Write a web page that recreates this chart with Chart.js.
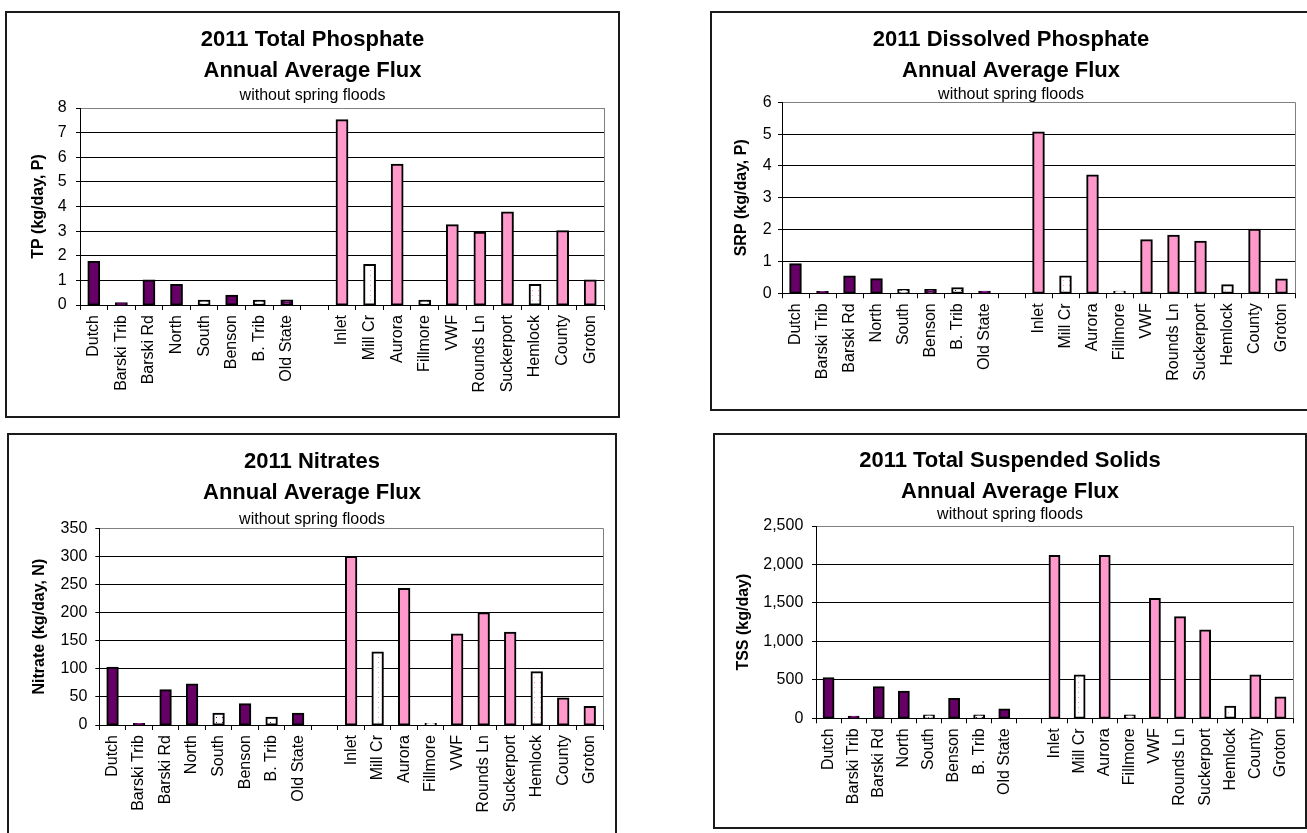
<!DOCTYPE html>
<html>
<head>
<meta charset="utf-8">
<title>2011 Annual Average Flux</title>
<script src="https://cdn.jsdelivr.net/npm/chart.js@4/dist/chart.umd.min.js"></script>
<style>
  html, body { margin: 0; padding: 0; background: #fff; overflow: hidden; }
  body { width: 1307px; height: 833px; position: relative; }
  .panel { position: absolute; box-sizing: border-box; border: 2px solid #1a1a1a; background: #fff; }
  .panel canvas { position: absolute; left: 0; top: 0; }
</style>
</head>
<body>
<div class="panel" id="p-tp"><canvas id="c-tp"></canvas></div>
<div class="panel" id="p-srp"><canvas id="c-srp"></canvas></div>
<div class="panel" id="p-no3"><canvas id="c-no3"></canvas></div>
<div class="panel" id="p-tss"><canvas id="c-tss"></canvas></div>
<script>
// Monitoring sites (west-shore tributaries, a blank spacer, then east-shore sites)
const categories = ['Dutch', 'Barski Trib', 'Barski Rd', 'North', 'South', 'Benson', 'B. Trib', 'Old State', '',
                    'Inlet', 'Mill Cr', 'Aurora', 'Fillmore', 'VWF', 'Rounds Ln', 'Suckerport', 'Hemlock', 'County', 'Groton'];
const westSites = ['Dutch', 'Barski Trib', 'Barski Rd', 'North', 'South', 'Benson', 'B. Trib', 'Old State'];
const hollowSites = ['South', 'B. Trib', 'Mill Cr', 'Fillmore', 'Hemlock'];

// Annual average flux, without spring floods
const tpValues      = [1.75, 0.07, 1.0, 0.81, 0.17, 0.38, 0.17, 0.18, null, 7.5, 1.62, 5.7, 0.17, 3.24, 2.93, 3.76, 0.81, 3.0, 1.0];
const srpValues     = [0.91, 0.04, 0.53, 0.44, 0.1, 0.1, 0.16, 0.05, null, 5.05, 0.53, 3.7, 0.05, 1.67, 1.81, 1.62, 0.25, 2.0, 0.43];
const nitrateValues = [102, 2, 62, 72, 20, 37, 13, 20, null, 299, 129, 242, 2, 161, 199, 164, 94, 47, 32];
const tssValues     = [520, 20, 405, 345, 35, 250, 35, 115, null, 2110, 555, 2110, 35, 1550, 1315, 1140, 150, 555, 270];

const tpTicks      = [0, 1, 2, 3, 4, 5, 6, 7, 8];
const srpTicks     = [0, 1, 2, 3, 4, 5, 6];
const nitrateTicks = [0, 50, 100, 150, 200, 250, 300, 350];
const tssTicks     = [0, 500, 1000, 1500, 2000, 2500];

const FONT = "'Liberation Sans', Arial, Helvetica, sans-serif";
const PURPLE = '#660066';
const PINK = '#FF99CC';
const BORDER_W = 2;

// Sparse dotted fill used for the hollow bars
function dotPattern(dotColor) {
  const c = document.createElement('canvas');
  c.width = 6; c.height = 5;
  const g = c.getContext('2d');
  g.fillStyle = '#ffffff';
  g.fillRect(0, 0, 6, 5);
  g.fillStyle = dotColor;
  g.fillRect(3, 2, 1, 1);
  return g.createPattern(c, 'repeat');
}

function barFills() {
  const westDots = dotPattern(PURPLE);
  const eastDots = dotPattern(PINK);
  return categories.map(name => {
    const west = westSites.includes(name);
    if (hollowSites.includes(name)) return west ? westDots : eastDots;
    return west ? PURPLE : PINK;
  });
}

// Frame of the plot area: grey right edge (top edge comes from the top grid line)
const plotFrame = {
  id: 'plotFrame',
  beforeDatasetsDraw(chart) {
    const { ctx, chartArea: a } = chart;
    ctx.save();
    ctx.strokeStyle = '#808080';
    ctx.lineWidth = 1;
    ctx.beginPath();
    ctx.moveTo(Math.round(a.right) + 0.5, a.top);
    ctx.lineTo(Math.round(a.right) + 0.5, a.bottom);
    ctx.stroke();
    ctx.restore();
  }
};

// Page layout of each panel: outer box, plot rectangle, text baselines
const panels = [
  { key: 'tp',  box: [5, 11, 620, 418],   plot: [80, 108, 604, 305],       titleBase: [47.3, 79],  subBase: 101.5, yTitleX: 39,    labelEnd: 66.7,
    title: ['2011 Total Phosphate', 'Annual Average Flux'], yTitle: 'TP (kg/day, P)', values: tpValues, ticks: tpTicks },
  { key: 'srp', box: [710, 11, 1312, 411], plot: [782, 102.3, 1295, 293.3], titleBase: [47.3, 79],  subBase: 100,   yTitleX: 741.5, labelEnd: 771.7,
    title: ['2011 Dissolved Phosphate', 'Annual Average Flux'], yTitle: 'SRP (kg/day, P)', values: srpValues, ticks: srpTicks },
  { key: 'no3', box: [7, 433, 617, 840],   plot: [99.3, 526.7, 603, 725],   titleBase: [470, 500.7], subBase: 525,  yTitleX: 40,    labelEnd: 87.3,
    title: ['2011 Nitrates', 'Annual Average Flux'], yTitle: 'Nitrate (kg/day, N)', values: nitrateValues, ticks: nitrateTicks },
  { key: 'tss', box: [713, 433, 1307, 829], plot: [816, 526, 1293, 718.3],  titleBase: [469, 500],  subBase: 520,   yTitleX: 744,   labelEnd: 803.3,
    title: ['2011 Total Suspended Solids', 'Annual Average Flux'], yTitle: 'TSS (kg/day)', values: tssValues, ticks: tssTicks }
];

const TITLE_SIZE = 22, SUB_SIZE = 16, AXIS_SIZE = 16;
const MID_TO_BASE = 0.3465; // alphabetic baseline below the em-box middle
const Y_TICK_LEN = 4, X_TICK_LEN = 5;

function buildPanel(p) {
  const [bl, bt, br, bb] = p.box;
  const div = document.getElementById('p-' + p.key);
  div.style.left = bl + 'px';
  div.style.top = bt + 'px';
  div.style.width = (br - bl) + 'px';
  div.style.height = (bb - bt) + 'px';

  const ox = bl + BORDER_W, oy = bt + BORDER_W;
  const W = br - bl - 2 * BORDER_W, H = bb - bt - 2 * BORDER_W;
  const canvas = document.getElementById('c-' + p.key);
  canvas.width = W; canvas.height = H;
  canvas.style.width = W + 'px'; canvas.style.height = H + 'px';

  const plotL = p.plot[0] - ox, plotT = p.plot[1] - oy, plotR = p.plot[2] - ox, plotB = p.plot[3] - oy;
  const side = W - plotR;

  // Title block
  const b1 = p.titleBase[0] - oy, b2 = p.titleBase[1] - oy;
  const lh = b2 - b1;
  const titleTop = b1 - MID_TO_BASE * TITLE_SIZE - lh / 2;
  const titleBottom = titleTop + 2 * lh;
  const subMid = p.subBase - oy - MID_TO_BASE * SUB_SIZE;
  let subLh = 17.6, subTop = subMid - subLh / 2 - titleBottom;
  if (subTop < 0) { subLh = 2 * (subMid - titleBottom); subTop = 0; }
  const subBottom = Math.max(0, plotT - titleBottom - subTop - subLh);

  const yWidth = plotL - side;
  const yTitlePad = Math.max(0, (p.yTitleX - ox) - side - AXIS_SIZE * 0.6);
  const yTickPad = Math.max(0, plotL - (p.labelEnd - ox) - Y_TICK_LEN);
  const xHeight = H - plotB;
  const yMax = p.ticks[p.ticks.length - 1];
  const yStep = p.ticks[1] - p.ticks[0];

  return new Chart(canvas, {
    type: 'bar',
    data: {
      labels: categories,
      datasets: [{
        data: p.values,
        backgroundColor: barFills(),
        borderColor: '#000',
        borderWidth: 2,
        borderSkipped: false,
        inflateAmount: 1,
        barPercentage: 0.39,
        categoryPercentage: 1
      }]
    },
    options: {
      responsive: false,
      animation: false,
      events: [],
      layout: { padding: { left: side, right: side, top: 0, bottom: 0 } },
      plugins: {
        legend: { display: false },
        tooltip: { enabled: false },
        title: {
          display: true,
          text: p.title,
          color: '#000',
          font: { family: FONT, size: TITLE_SIZE, weight: 'bold', lineHeight: lh / TITLE_SIZE },
          padding: { top: titleTop, bottom: 0 }
        },
        subtitle: {
          display: true,
          text: 'without spring floods',
          color: '#000',
          font: { family: FONT, size: SUB_SIZE, weight: 'normal', lineHeight: subLh / SUB_SIZE },
          padding: { top: subTop, bottom: subBottom }
        }
      },
      scales: {
        x: {
          grid: { offset: true, drawOnChartArea: false, tickLength: X_TICK_LEN, color: '#000' },
          border: { color: '#000', width: 1 },
          ticks: { autoSkip: false, minRotation: 90, maxRotation: 90, padding: 5, color: '#000',
                   font: { family: FONT, size: AXIS_SIZE } },
          afterFit(scale) { scale.height = xHeight; }
        },
        y: {
          min: 0,
          max: yMax,
          ticks: { stepSize: yStep, padding: yTickPad, color: '#000', font: { family: FONT, size: AXIS_SIZE },
                   callback: v => Number(v).toLocaleString('en-US') },
          grid: { color: c => (c.tick && c.tick.value === yMax) ? '#808080' : '#000', tickColor: '#000', tickLength: Y_TICK_LEN },
          border: { color: '#000', width: 1 },
          title: { display: true, text: p.yTitle, color: '#000',
                   font: { family: FONT, size: AXIS_SIZE, weight: 'bold', lineHeight: 1.2 },
                   padding: { top: yTitlePad, bottom: 0 } },
          afterFit(scale) { scale.width = yWidth; }
        }
      }
    },
    plugins: [plotFrame]
  });
}

panels.forEach(buildPanel);
</script>
</body>
</html>
